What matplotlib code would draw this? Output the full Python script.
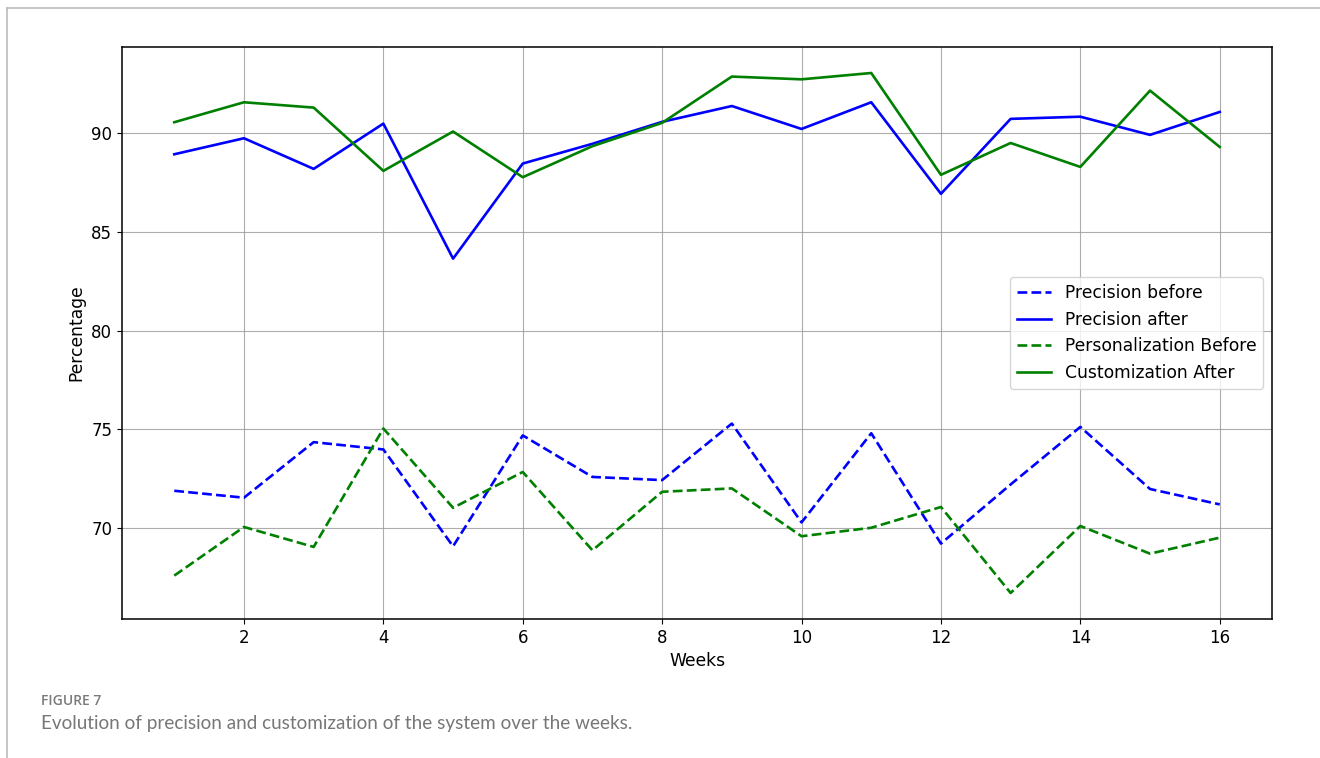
import matplotlib
matplotlib.use("Agg")
import matplotlib.pyplot as plt
from matplotlib.lines import Line2D

weeks = list(range(1, 17))
precision_before = [71.90, 71.55, 74.36, 73.99, 69.09, 74.70, 72.60, 72.44,
                    75.30, 70.30, 74.81, 69.23, 72.22, 75.13, 71.99, 71.21]
precision_after = [88.92, 89.73, 88.18, 90.47, 83.64, 88.45, 89.45, 90.56,
                   91.36, 90.20, 91.55, 86.92, 90.71, 90.82, 89.90, 91.06]
personalization_before = [67.61, 70.07, 69.06, 75.05, 71.04, 72.85, 68.89, 71.85,
                          72.02, 69.60, 70.03, 71.08, 66.73, 70.12, 68.72, 69.53]
customization_after = [90.54, 91.55, 91.28, 88.08, 90.07, 87.76, 89.33, 90.51,
                       92.85, 92.71, 93.03, 87.88, 89.49, 88.28, 92.14, 89.29]

fig = plt.figure(figsize=(13.2, 7.58), dpi=100)
ax = fig.add_axes([122/1320, 1 - 619/758, (1272-122)/1320, (619-47)/758])

lw = 1.9
ax.plot(weeks, precision_before, color="blue", linestyle="--", lw=lw, label="Precision before")
ax.plot(weeks, precision_after, color="blue", linestyle="-", lw=lw, label="Precision after")
ax.plot(weeks, personalization_before, color="green", linestyle="--", lw=lw, label="Personalization Before")
ax.plot(weeks, customization_after, color="green", linestyle="-", lw=lw, label="Customization After")

ax.set_xticks([2, 4, 6, 8, 10, 12, 14, 16])
ax.set_yticks([70, 75, 80, 85, 90])
ax.tick_params(labelsize=12)
ax.set_xlabel("Weeks", fontsize=12.3)
ax.set_ylabel("Percentage", fontsize=12.3)
ax.grid(True, color="#999999", linewidth=0.8, alpha=0.8)
for s in ax.spines.values():
    s.set_linewidth(1.1)
ax.legend(loc="center right", fontsize=12.35, framealpha=0.8)

# page frame lines
fig.add_artist(Line2D([7/1320, 1.0], [1 - 8/758, 1 - 8/758], color="#bbbbbb", lw=1.2))
fig.add_artist(Line2D([7/1320, 7/1320], [0, 1 - 8/758], color="#bbbbbb", lw=1.2))

fig.text(41/1320, 1 - 701/758, "FIGURE 7", fontsize=10, color="#7a7a7a",
         family="Open Sans", va="center", ha="left", weight="semibold")
fig.text(41/1320, 1 - 724/758, "Evolution of precision and customization of the system over the weeks.",
         fontsize=13.6, color="#777777", family="Lato", va="center", ha="left")

fig.savefig("out.png", dpi=100)
